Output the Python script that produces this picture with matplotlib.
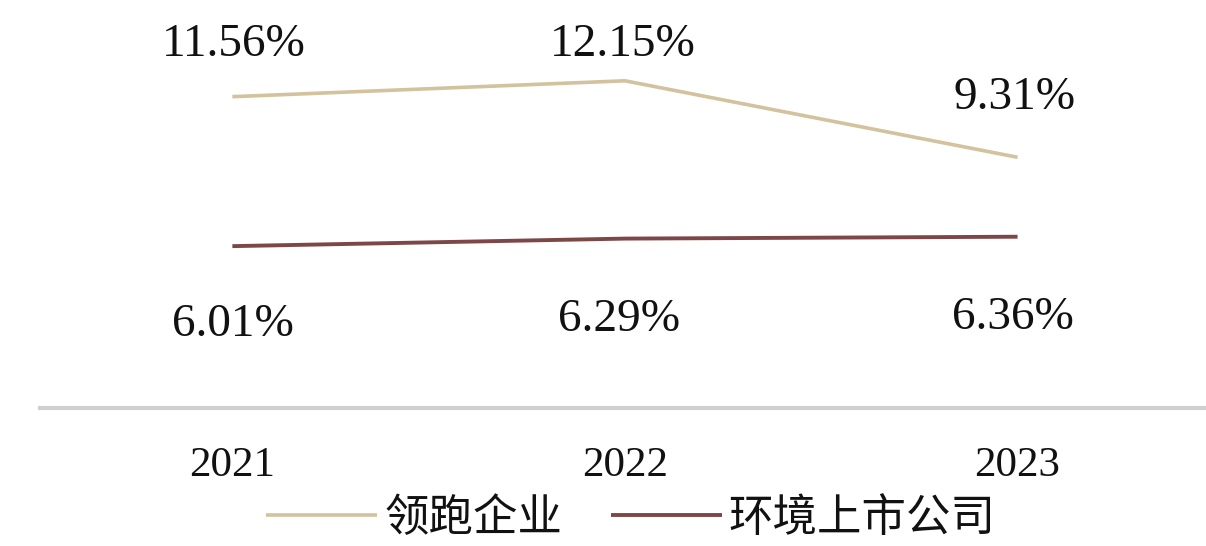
import matplotlib
matplotlib.use("Agg")
import matplotlib.pyplot as plt

years = ["2021", "2022", "2023"]
leading = [11.56, 12.15, 9.31]
listed = [6.01, 6.29, 6.36]
leading_labels = ["11.56%", "12.15%", "9.31%"]
listed_labels = ["6.01%", "6.29%", "6.36%"]
series_names = ["领跑企业", "环境上市公司"]

W, H = 1206, 546
fig = plt.figure(figsize=(W / 100, H / 100), dpi=100)
ax = fig.add_axes([40 / W, (H - 408) / H, 1 - 40 / W, 408 / H])

x = list(range(len(years)))
c1 = "#d2c29e"
c2 = "#7e4747"
ax.plot(x, leading, color=c1, lw=2.6, solid_capstyle="butt", label=series_names[0])
ax.plot(x, listed, color=c2, lw=2.8, solid_capstyle="butt", label=series_names[1])

ax.set_xlim(-0.49, 2.48)
ax.set_ylim(0, 15.15)

serif = ["Liberation Serif", "DejaVu Serif"]
lead_off = [(1, 52), (-2, 36), (-3, 60)]
list_off = [(1, -79), (-6, -81), (-5, -81)]
for i in x:
    ax.annotate(leading_labels[i], (x[i], leading[i]), xytext=lead_off[i],
                textcoords="offset pixels", ha="center", va="center",
                fontsize=34, family=serif, color="#111111")
    ax.annotate(listed_labels[i], (x[i], listed[i]), xytext=list_off[i],
                textcoords="offset pixels", ha="center", va="center",
                fontsize=34, family=serif, color="#111111")

ax.set_xticks(x)
ax.set_xticklabels(years, family=serif, fontsize=31, color="#111111")
ax.tick_params(axis="x", length=0, pad=28)
ax.set_yticks([])
for s in ["top", "right", "left"]:
    ax.spines[s].set_visible(False)
ax.spines["bottom"].set_color("#cfcfcf")
ax.spines["bottom"].set_linewidth(3)

leg = fig.legend(loc="center", bbox_to_anchor=(631 / W, 1 - 518 / H),
                 ncol=2, frameon=False, handlelength=2.5, handletextpad=0.15,
                 columnspacing=1.1,
                 prop={"family": ["Noto Sans CJK SC", "DejaVu Sans"], "size": 32})
for t in leg.get_texts():
    t.set_color("#111111")

fig.savefig("out.png", dpi=100, facecolor="white")
